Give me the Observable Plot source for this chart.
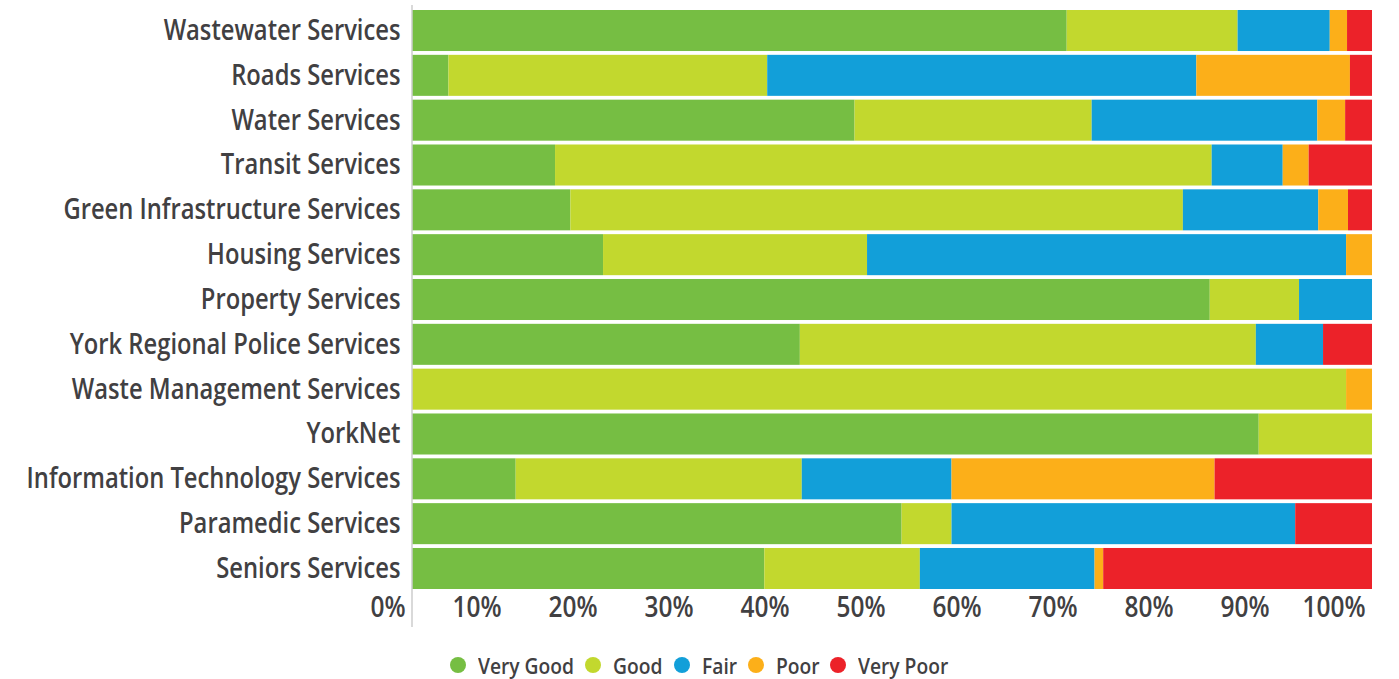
<!DOCTYPE html>
<html>
<head>
<meta charset="utf-8">
<script src="https://cdn.jsdelivr.net/npm/d3@7"></script>
<script src="https://cdn.jsdelivr.net/npm/@observablehq/plot@0.6"></script>
<style>
  html, body { margin: 0; padding: 0; background: #fff; }
  body { width: 1399px; height: 679px; overflow: hidden; font-family: "Open Sans", sans-serif; }
  #chart svg { display: block; }
  #legend { display: flex; justify-content: center; align-items: center; height: 30px; margin-top: 10px;
            font-size: 22px; font-weight: 600; color: #414042; white-space: nowrap; }
  .item { display: flex; align-items: center; margin-right: 11px; }
  .item:last-child { margin-right: 0; }
  .dot { width: 16px; height: 16px; border-radius: 50%; margin-right: 12px; flex: none; }
  .lbl { display: inline-block; transform-origin: left center; }
</style>
</head>
<body>
<div id="chart"></div>
<div id="legend"></div>
<script>
const services = [
  "Wastewater Services", "Roads Services", "Water Services", "Transit Services",
  "Green Infrastructure Services", "Housing Services", "Property Services",
  "York Regional Police Services", "Waste Management Services", "YorkNet",
  "Information Technology Services", "Paramedic Services", "Seniors Services"
];
const ratings = ["Very Good", "Good", "Fair", "Poor", "Very Poor"];
const ratingColors = ["#76be43", "#c2d82e", "#129fd9", "#fcaf19", "#ec2229"];

const veryGood = [68.2, 3.8, 46.1, 14.9, 16.5, 19.9, 83.1, 40.4, 0, 88.2, 10.8, 51.0, 36.7];
const good     = [17.8, 33.2, 24.7, 68.4, 63.8, 27.5, 9.3, 47.5, 97.3, 11.8, 29.8, 5.2, 16.2];
const fair     = [9.6, 44.7, 23.5, 7.4, 14.1, 49.9, 7.6, 7.0, 0, 0, 15.6, 35.8, 18.2];
const poor     = [1.8, 16.0, 2.9, 2.7, 3.1, 2.7, 0, 0, 2.7, 0, 27.4, 0, 0.9];
const veryPoor = [2.6, 2.3, 2.8, 6.6, 2.5, 0, 0, 5.1, 0, 0, 16.4, 8.0, 28.0];

const xTicks = [0, 10, 20, 30, 40, 50, 60, 70, 80, 90, 100];

const series = [veryGood, good, fair, poor, veryPoor];
const rows = [];
services.forEach((s, i) => {
  ratings.forEach((r, j) => {
    rows.push({service: s, rating: r, value: series[j][i]});
  });
});

const chart = Plot.plot({
  width: 1399,
  height: 640,
  marginLeft: 412,
  marginRight: 27,
  marginTop: 10,
  marginBottom: 51,
  style: {fontFamily: '"Open Sans", sans-serif', color: "#414042", background: "#fff"},
  x: {domain: [0, 100], axis: null},
  y: {domain: services, paddingInner: 0.085, paddingOuter: 0, round: false, axis: null},
  color: {domain: ratings, range: ratingColors},
  marks: [
    Plot.barX(rows, Plot.stackX({x: "value", y: "service", fill: "rating", order: ratings})),
    Plot.ruleX([0], {stroke: "#cccccc", strokeWidth: 1.5, dx: -0.5, insetTop: -5, insetBottom: -38}),
    Plot.axisY({tickSize: 0, tickPadding: 12, fontSize: 28, fontWeight: 600, fill: "#414042", label: null}),
    Plot.axisX({ticks: xTicks, tickFormat: d => d + "%", tickSize: 0, tickPadding: 7, textAnchor: "end", dx: -7,
                fontSize: 29, fontWeight: 600, fill: "#414042", label: null})
  ]
});
document.getElementById("chart").appendChild(chart);

// condense the labels horizontally to mimic the reference's condensed typeface
const allTexts = Array.from(chart.querySelectorAll("text"));
function condense(texts, refText, targetWidth) {
  const ref = texts.find(t => t.textContent === refText);
  if (!ref) return;
  const w = ref.getBBox().width;
  if (!w) return;
  const k = targetWidth / w;
  texts.forEach(t => {
    const tr = t.getAttribute("transform") || "";
    t.setAttribute("transform", (tr + ` scale(${k},1)`).trim());
  });
}
condense(allTexts.filter(t => services.includes(t.textContent)), "Wastewater Services", 237);
condense(allTexts.filter(t => /%$/.test(t.textContent)), "100%", 63);

const legend = document.getElementById("legend");
const labels = [];
ratings.forEach((r, i) => {
  const item = document.createElement("div");
  item.className = "item";
  const dot = document.createElement("span");
  dot.className = "dot";
  dot.style.background = ratingColors[i];
  const label = document.createElement("span");
  label.className = "lbl";
  label.textContent = r;
  item.appendChild(dot);
  item.appendChild(label);
  legend.appendChild(item);
  labels.push(label);
});
const refW = labels[0].getBoundingClientRect().width;
const kl = refW ? 96 / refW : 1;
labels.forEach(l => {
  const w = l.getBoundingClientRect().width;
  l.style.transform = `scaleX(${kl})`;
  l.style.marginRight = `${-(w * (1 - kl))}px`;
});
</script>
</body>
</html>
